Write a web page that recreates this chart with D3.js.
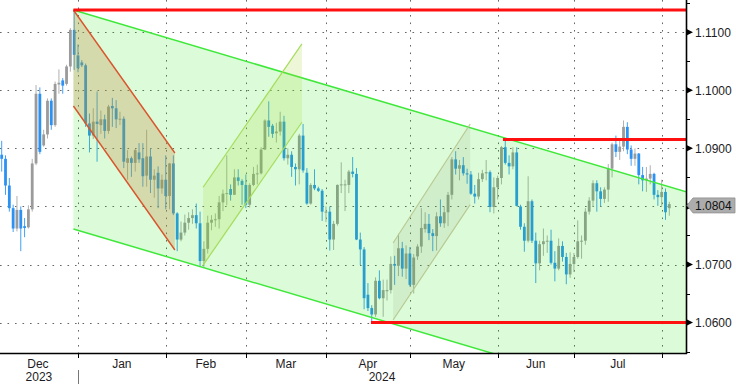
<!DOCTYPE html>
<html><head><meta charset="utf-8">
<script src="https://cdn.jsdelivr.net/npm/d3@7"></script>
<style>body{margin:0;background:#fff}svg{display:block}</style>
</head><body><svg id="c" width="736" height="384"></svg>
<script>
// ---- data (daily EUR/USD, 1 Dec 2023 .. 2 Aug 2024, weekdays) ----
const openP = [1.0889,1.0882,1.0836,1.0797,1.0762,1.0794,1.0766,1.0764,1.0795,1.0874,1.0994,1.0905,1.0924,1.0982,1.0940,1.1010,1.1017,1.1011,1.1041,1.1104,1.1060,
1.1048,1.1043,1.0943,1.0922,1.0946,1.0940,1.0950,1.0930,1.0973,1.0969,1.0950,1.0951,1.0875,1.0883,1.0875,1.0893,1.0883,1.0853,1.0886,1.0846,1.0858,1.0831,1.0846,
1.0818,1.0874,1.0788,1.0743,1.0755,1.0772,1.0780,1.0785,1.0771,1.0706,1.0727,1.0772,1.0777,1.0778,1.0807,1.0822,1.0830,1.0820,1.0850,1.0844,1.0837,
1.0803,1.0837,1.0856,1.0857,1.0898,1.0948,1.0939,1.0926,1.0929,1.0946,1.0883,1.0889,1.0868,1.0864,1.0922,1.0858,1.0805,1.0837,1.0831,1.0827,1.0790,
1.0791,1.0743,1.0770,1.0837,1.0837,1.0837,1.0860,1.0856,1.0743,1.0726,1.0648,1.0625,1.0614,1.0672,1.0642,1.0654,1.0656,1.0701,1.0698,1.0728,1.0693,1.0719,
1.0665,1.0714,1.0731,1.0761,1.0770,1.0754,1.0749,1.0783,1.0771,1.0790,1.0820,1.0881,1.0865,1.0871,1.0857,1.0855,1.0822,1.0817,1.0847,1.0857,1.0859,1.0799,1.0833,
1.0849,1.0902,1.0875,1.0869,1.0893,1.0800,1.0765,1.0741,1.0809,1.0741,1.0702,1.0735,1.0740,1.0741,1.0703,1.0693,1.0732,1.0713,1.0683,1.0701,
1.0713,1.0740,1.0741,1.0791,1.0810,1.0840,1.0826,1.0813,1.0829,1.0865,1.0907,1.0894,1.0903,1.0937,1.0898,1.0882,1.0891,1.0854,1.0845,1.0848,1.0856,1.0820,1.0816,
1.0825,1.0797];
const highP = [1.0913,1.0888,1.0849,1.0803,1.0818,1.0800,1.0780,1.0802,1.0882,1.1009,1.1005,1.0932,1.0986,1.0986,1.1015,1.1036,1.1021,1.1044,1.1107,1.1139,1.1079,
1.1052,1.1046,1.0960,1.0969,1.0998,1.0965,1.0958,1.0975,1.0987,1.0983,1.0963,1.0955,1.0897,1.0886,1.0899,1.0909,1.0909,1.0932,1.0900,1.0864,1.0869,1.0855,1.0888,
1.0875,1.0888,1.0790,1.0774,1.0786,1.0790,1.0795,1.0805,1.0791,1.0740,1.0784,1.0785,1.0788,1.0818,1.0829,1.0888,1.0838,1.0864,1.0864,1.0847,1.0855,
1.0840,1.0868,1.0872,1.0902,1.0950,1.0981,1.0942,1.0944,1.0963,1.0956,1.0900,1.0895,1.0874,1.0925,1.0942,1.0866,1.0840,1.0864,1.0834,1.0830,1.0800,
1.0800,1.0775,1.0838,1.0876,1.0846,1.0863,1.0885,1.0866,1.0755,1.0730,1.0668,1.0630,1.0678,1.0690,1.0674,1.0674,1.0714,1.0715,1.0753,1.0739,1.0733,1.0730,
1.0718,1.0735,1.0797,1.0790,1.0787,1.0761,1.0790,1.0812,1.0800,1.0825,1.0885,1.0895,1.0880,1.0885,1.0865,1.0861,1.0837,1.0858,1.0863,1.0880,1.0862,1.0850,1.0853,
1.0904,1.0916,1.0888,1.0902,1.0902,1.0803,1.0771,1.0852,1.0812,1.0755,1.0741,1.0762,1.0750,1.0760,1.0723,1.0745,1.0740,1.0720,1.0721,1.0720,
1.0776,1.0750,1.0797,1.0816,1.0845,1.0845,1.0833,1.0833,1.0873,1.0910,1.0922,1.0915,1.0948,1.0945,1.0905,1.0900,1.0892,1.0868,1.0868,1.0871,1.0858,1.0828,1.0846,
1.0831,1.0808];
const lowP = [1.0860,1.0820,1.0791,1.0756,1.0757,1.0723,1.0747,1.0762,1.0791,1.0871,1.0890,1.0903,1.0917,1.0932,1.0937,1.0994,1.0994,1.1008,1.1032,1.1035,1.1031,
1.1040,1.0937,1.0893,1.0916,1.0877,1.0925,1.0917,1.0925,1.0937,1.0935,1.0940,1.0866,1.0846,1.0851,1.0860,1.0875,1.0834,1.0834,1.0823,1.0815,1.0797,1.0822,1.0795,
1.0795,1.0785,1.0723,1.0740,1.0750,1.0760,1.0770,1.0762,1.0697,1.0695,1.0719,1.0759,1.0765,1.0762,1.0792,1.0802,1.0810,1.0820,1.0836,1.0803,1.0797,
1.0798,1.0835,1.0838,1.0855,1.0897,1.0920,1.0918,1.0910,1.0922,1.0879,1.0872,1.0851,1.0836,1.0838,1.0858,1.0803,1.0803,1.0828,1.0825,1.0775,1.0773,
1.0724,1.0725,1.0767,1.0823,1.0792,1.0823,1.0850,1.0742,1.0699,1.0623,1.0620,1.0601,1.0610,1.0640,1.0610,1.0638,1.0650,1.0665,1.0680,1.0679,1.0675,1.0662,
1.0650,1.0708,1.0720,1.0755,1.0742,1.0723,1.0724,1.0765,1.0763,1.0766,1.0812,1.0855,1.0845,1.0853,1.0839,1.0820,1.0805,1.0812,1.0842,1.0845,1.0790,1.0788,1.0812,
1.0838,1.0872,1.0855,1.0864,1.0800,1.0760,1.0722,1.0738,1.0737,1.0668,1.0690,1.0715,1.0720,1.0700,1.0671,1.0690,1.0705,1.0666,1.0677,1.0687,
1.0710,1.0710,1.0734,1.0786,1.0799,1.0791,1.0800,1.0806,1.0808,1.0850,1.0885,1.0880,1.0895,1.0890,1.0870,1.0870,1.0838,1.0826,1.0825,1.0838,1.0812,1.0801,1.0801,
1.0777,1.0784];
const closeP = [1.0882,1.0836,1.0797,1.0762,1.0794,1.0762,1.0763,1.0795,1.0874,1.0994,1.0894,1.0924,1.0982,1.0940,1.1011,1.1013,1.1008,1.1041,1.1104,1.1061,1.1038,
1.1043,1.0943,1.0922,1.0946,1.0942,1.0950,1.0930,1.0972,1.0969,1.0950,1.0951,1.0877,1.0883,1.0875,1.0897,1.0881,1.0852,1.0886,1.0846,1.0853,1.0831,1.0846,1.0818,
1.0874,1.0788,1.0743,1.0755,1.0772,1.0780,1.0785,1.0771,1.0706,1.0727,1.0772,1.0777,1.0778,1.0807,1.0822,1.0823,1.0820,1.0850,1.0844,1.0837,1.0803,
1.0837,1.0856,1.0857,1.0898,1.0948,1.0937,1.0925,1.0929,1.0946,1.0883,1.0889,1.0868,1.0864,1.0922,1.0862,1.0805,1.0837,1.0831,1.0827,1.0791,1.0791,
1.0743,1.0770,1.0837,1.0838,1.0838,1.0860,1.0856,1.0743,1.0726,1.0642,1.0625,1.0614,1.0672,1.0642,1.0656,1.0656,1.0701,1.0698,1.0728,1.0693,1.0719,1.0665,
1.0712,1.0731,1.0763,1.0770,1.0754,1.0749,1.0783,1.0771,1.0790,1.0820,1.0881,1.0865,1.0871,1.0857,1.0855,1.0822,1.0817,1.0847,1.0857,1.0859,1.0799,1.0833,1.0849,
1.0902,1.0875,1.0869,1.0893,1.0801,1.0765,1.0741,1.0809,1.0741,1.0702,1.0735,1.0740,1.0741,1.0703,1.0693,1.0732,1.0713,1.0683,1.0701,1.0713,
1.0740,1.0741,1.0791,1.0810,1.0840,1.0826,1.0813,1.0829,1.0865,1.0907,1.0894,1.0903,1.0937,1.0898,1.0882,1.0891,1.0854,1.0845,1.0848,1.0856,1.0820,1.0816,1.0825,
1.0790,1.0804];
const startDate = "2023-12-01";
const yTicks = [1.06, 1.07, 1.08, 1.09, 1.10, 1.11];
const yMinorTicks = [1.055, 1.065, 1.075, 1.085, 1.095, 1.105, 1.115];
const monthNames = ["Dec","Jan","Feb","Mar","Apr","May","Jun","Jul"];
const yearNames = ["2023","2024"];
const lastPrice = 1.0804;
// drawn annotations, in [bar index, price]
const hLines = [[18.8, 1.11382], [131.4, 1.09154], [96.8, 1.0600]];
const mainChannel = {upper: [[18.8, 1.11382], [179.4, 1.08252]], lower: [[18.8, 1.07612], [179.4, 1.04481]]};
const downChannel = {upper: [[18.8, 1.11382], [45.4, 1.0892]], lower: [[18.8, 1.09729], [45.4, 1.0725]]};
const upChannel1 = {upper: [[52.8, 1.0833], [78.7, 1.1080]], lower: [[52.8, 1.0699], [78.7, 1.0945]]};
const upChannel2 = {upper: [[102.6, 1.0737], [122.8, 1.0942]], lower: [[102.6, 1.06045], [122.8, 1.0803]]};

// ---- build ----
const W = 736, H = 384, plotR = 686, plotB = 353;
const n = closeP.length;
const dates = [];
{ let d = new Date(startDate + "T00:00:00"); while (dates.length < n) { const wd = d.getDay(); if (wd !== 0 && wd !== 6) dates.push(new Date(d)); d = d3.timeDay.offset(d, 1); } }
const bars = d3.range(n).map(i => ({i, d: dates[i], o: openP[i], h: highP[i], l: lowP[i], c: closeP[i]}));

const x = d3.scaleLinear().domain([0, n - 1]).range([1.7, 669.3]);
const y = d3.scaleLinear().domain([1.06, 1.11]).range([322.6, 32.2]);

const svg = d3.select("#c");
svg.append("defs").append("clipPath").attr("id", "plot").append("rect").attr("x", 0).attr("y", 0).attr("width", plotR).attr("height", plotB);

// month boundaries (last bar of each month)
const monthEnds = [];
for (let i = 0; i < n - 1; i++) if (bars[i].d.getMonth() !== bars[i + 1].d.getMonth()) monthEnds.push(i);

// grid
const grid = svg.append("g").attr("stroke", "#666").attr("stroke-width", 1).attr("stroke-dasharray", "1.6,5.9");
grid.selectAll("line.h").data(yTicks).join("line").attr("x1", 0).attr("x2", plotR)
  .attr("y1", d => Math.round(y(d)) + 0.5).attr("y2", d => Math.round(y(d)) + 0.5);
grid.selectAll("line.v").data(monthEnds).join("line").attr("y1", 0).attr("y2", plotB)
  .attr("x1", d => Math.round(x(d)) + 0.5).attr("x2", d => Math.round(x(d)) + 0.5);

// candles
const upCol = "#9b9b9b", dnCol = "#2b91f2";
const cg = svg.append("g").attr("clip-path", "url(#plot)");
cg.selectAll("line.w").data(bars).join("line")
  .attr("x1", d => x(d.i)).attr("x2", d => x(d.i)).attr("y1", d => y(d.h)).attr("y2", d => y(d.l))
  .attr("stroke", d => d.c >= d.o ? "#b0b0b0" : "#45a0f5").attr("stroke-width", 1);
cg.selectAll("rect.b").data(bars).join("rect")
  .attr("x", d => x(d.i) - 1.4).attr("width", 2.8)
  .attr("y", d => y(Math.max(d.o, d.c))).attr("height", d => Math.max(1, Math.abs(y(d.o) - y(d.c))))
  .attr("fill", d => d.c >= d.o ? upCol : dnCol);

// channels
const og = svg.append("g").attr("clip-path", "url(#plot)");
const pt = p => [x(p[0]), y(p[1])];
function channel(ch, fill, op, stroke, sw) {
  const poly = [pt(ch.upper[0]), pt(ch.upper[1]), pt(ch.lower[1]), pt(ch.lower[0])];
  og.append("path").attr("d", d3.line()(poly) + "Z").attr("fill", fill).attr("fill-opacity", op);
  [ch.upper, ch.lower].forEach(l => og.append("path").attr("d", d3.line()(l.map(pt)))
    .attr("stroke", stroke).attr("stroke-width", sw).attr("fill", "none"));
}
channel(mainChannel, "rgb(20,235,0)", 0.15, "#3fe83a", 1.5);
channel(downChannel, "rgb(200,140,70)", 0.3, "#d8552e", 1.4);
channel(upChannel1, "rgb(165,215,55)", 0.2, "#a6dc5c", 1.2);
channel(upChannel2, "rgb(140,150,110)", 0.13, "#b9c993", 1.2);

// red horizontal levels
og.selectAll("line.r").data(hLines).join("line")
  .attr("x1", d => x(d[0])).attr("x2", plotR).attr("y1", d => y(d[1])).attr("y2", d => y(d[1]))
  .attr("stroke", "#ff1010").attr("stroke-width", 3);

// axes
svg.append("line").attr("x1", plotR + 0.5).attr("x2", plotR + 0.5).attr("y1", 0).attr("y2", plotB + 1).attr("stroke", "#000").attr("stroke-width", 1.6);
svg.append("line").attr("x1", 0).attr("x2", plotR + 1).attr("y1", plotB + 0.5).attr("y2", plotB + 0.5).attr("stroke", "#000").attr("stroke-width", 1.6);

const yAx = svg.append("g");
yAx.selectAll("line.m").data(yMinorTicks).join("line").attr("x1", plotR).attr("x2", plotR + 4)
  .attr("y1", d => Math.round(y(d)) + 0.5).attr("y2", d => Math.round(y(d)) + 0.5).attr("stroke", "#000");
yAx.selectAll("path.t").data(yTicks).join("path")
  .attr("d", d => { const yy = y(d); return `M${plotR + 1},${yy - 3}L${plotR + 7},${yy}L${plotR + 1},${yy + 3}Z`; })
  .attr("fill", "#000");
yAx.selectAll("text").data(yTicks).join("text")
  .attr("x", 695).attr("y", d => y(d) + 4.5).text(d => d.toFixed(4))
  .attr("font-family", "Liberation Sans, Arial, sans-serif").attr("font-size", 12).attr("fill", "#1c1c24");

// last price tag
const ly = y(lastPrice) + 1.3;
svg.append("path").attr("d", `M${plotR + 1},${ly}L${plotR + 7},${ly - 7.5}L735,${ly - 7.5}L735,${ly + 7.5}L${plotR + 7},${ly + 7.5}Z`)
  .attr("fill", "#acacac").attr("stroke", "#8f8f8f").attr("stroke-width", 0.8);
svg.append("text").attr("x", 695).attr("y", ly + 4.5).text(lastPrice.toFixed(4))
  .attr("font-family", "Liberation Sans, Arial, sans-serif").attr("font-size", 12).attr("fill", "#111");

// x axis ticks & labels
svg.append("g").selectAll("line").data(monthEnds).join("line")
  .attr("x1", d => Math.round(x(d)) + 0.5).attr("x2", d => Math.round(x(d)) + 0.5).attr("y1", plotB).attr("y2", plotB + 5)
  .attr("stroke", "#000");
const bounds = [-1, ...monthEnds, n - 1];
const mLabels = monthNames.map((m, k) => ({m, pos: (bounds[k] + bounds[k + 1]) / 2}));
svg.append("g").selectAll("text").data(mLabels).join("text")
  .attr("x", d => x(d.pos)).attr("y", 368).attr("text-anchor", "middle").text(d => d.m)
  .attr("font-family", "Liberation Sans, Arial, sans-serif").attr("font-size", 12).attr("fill", "#1c1c24");
const yearPos = [ (x(-1) + x(monthEnds[0])) / 2 + 1, (x(monthEnds[0]) + plotR) / 2 ];
svg.append("g").selectAll("text").data(yearNames).join("text")
  .attr("x", (d, k) => yearPos[k]).attr("y", 381).attr("text-anchor", "middle").text(d => d)
  .attr("font-family", "Liberation Sans, Arial, sans-serif").attr("font-size", 12).attr("fill", "#1c1c24");
svg.append("line").attr("x1", Math.round(x(monthEnds[0])) + 0.5).attr("x2", Math.round(x(monthEnds[0])) + 0.5)
  .attr("y1", 370).attr("y2", 384).attr("stroke", "#777");
</script></body></html>
